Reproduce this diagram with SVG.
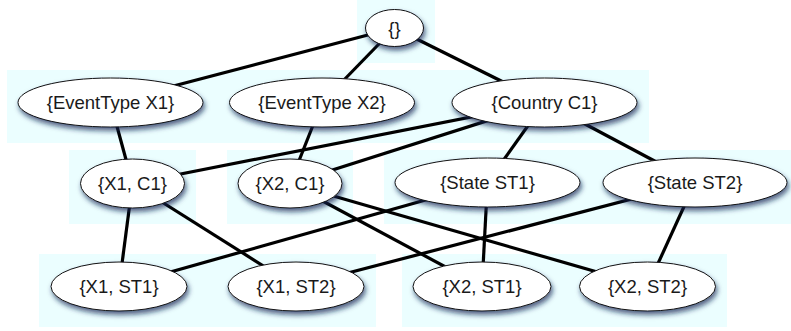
<svg xmlns="http://www.w3.org/2000/svg" width="791" height="331" viewBox="0 0 791 331">
  <defs>
    <filter id="shadow" x="-20%" y="-30%" width="140%" height="170%">
      <feDropShadow dx="1.5" dy="3.5" stdDeviation="2.5" flood-color="#162452" flood-opacity="0.7"/>
    </filter>
  </defs>
  <style>
    .band { fill: #ebfeff; }
    .edge { stroke: #000; stroke-width: 3.2; fill: none; }
    .node ellipse { fill: #fff; stroke: #111; stroke-width: 1; filter: url(#shadow); }
    .node text { font-family: "Liberation Sans", Arial, sans-serif; font-size: 18.5px; fill: #1a1a1a; text-anchor: middle; }
  </style>

  <!-- background bands -->
  <g id="bands">
    <rect class="band" x="357" y="0" width="78" height="63"/>
    <rect class="band" x="7" y="70" width="642" height="73"/>
    <rect class="band" x="69" y="150" width="127" height="74"/>
    <rect class="band" x="227" y="150" width="126" height="74"/>
    <rect class="band" x="384" y="150" width="407" height="74"/>
    <rect class="band" x="39" y="254" width="337" height="73"/>
    <rect class="band" x="402" y="254" width="325" height="73"/>
  </g>

  <!-- connectors, centre to centre, hidden under the ellipses -->
  <g id="edges">
    <line class="edge" x1="394.5" y1="28" x2="110.5" y2="102.5"/>
    <line class="edge" x1="394.5" y1="28" x2="322" y2="102.5"/>
    <line class="edge" x1="394.5" y1="28" x2="544.5" y2="102.5"/>
    <line class="edge" x1="110.5" y1="102.5" x2="132.5" y2="183.5"/>
    <line class="edge" x1="322" y1="102.5" x2="290" y2="183.5"/>
    <line class="edge" x1="544.5" y1="102.5" x2="132.5" y2="183.5"/>
    <line class="edge" x1="544.5" y1="102.5" x2="290" y2="183.5"/>
    <line class="edge" x1="544.5" y1="102.5" x2="487.5" y2="182.5"/>
    <line class="edge" x1="544.5" y1="102.5" x2="695" y2="182.5"/>
    <line class="edge" x1="132.5" y1="183.5" x2="119" y2="286.5"/>
    <line class="edge" x1="132.5" y1="183.5" x2="296" y2="286.5"/>
    <line class="edge" x1="290" y1="183.5" x2="482" y2="286.5"/>
    <line class="edge" x1="290" y1="183.5" x2="647.5" y2="286.5"/>
    <line class="edge" x1="487.5" y1="182.5" x2="119" y2="286.5"/>
    <line class="edge" x1="487.5" y1="182.5" x2="482" y2="286.5"/>
    <line class="edge" x1="695" y1="182.5" x2="296" y2="286.5"/>
    <line class="edge" x1="695" y1="182.5" x2="647.5" y2="286.5"/>
  </g>

  <g id="empty" class="node">
    <ellipse cx="394.5" cy="28" rx="29" ry="18.5"/>
    <text x="394.5" y="34.5">{}</text>
  </g>
  <g id="eventtype-x1" class="node">
    <ellipse cx="110.5" cy="102.5" rx="92.5" ry="24.5"/>
    <text x="110.5" y="109">{EventType X1}</text>
  </g>
  <g id="eventtype-x2" class="node">
    <ellipse cx="322" cy="102.5" rx="92.5" ry="24.5"/>
    <text x="322" y="109">{EventType X2}</text>
  </g>
  <g id="country-c1" class="node">
    <ellipse cx="544.5" cy="102.5" rx="92.5" ry="24.5"/>
    <text x="544.5" y="109">{Country C1}</text>
  </g>
  <g id="x1-c1" class="node">
    <ellipse cx="132.5" cy="183.5" rx="52" ry="24.5"/>
    <text x="132.5" y="190">{X1, C1}</text>
  </g>
  <g id="x2-c1" class="node">
    <ellipse cx="290" cy="183.5" rx="52" ry="24.5"/>
    <text x="290" y="190">{X2, C1}</text>
  </g>
  <g id="state-st1" class="node">
    <ellipse cx="487.5" cy="182.5" rx="92.5" ry="24.5"/>
    <text x="487.5" y="189">{State ST1}</text>
  </g>
  <g id="state-st2" class="node">
    <ellipse cx="695" cy="182.5" rx="92" ry="24.5"/>
    <text x="695" y="189">{State ST2}</text>
  </g>
  <g id="x1-st1" class="node">
    <ellipse cx="119" cy="286.5" rx="68" ry="24.5"/>
    <text x="119" y="293">{X1, ST1}</text>
  </g>
  <g id="x1-st2" class="node">
    <ellipse cx="296" cy="286.5" rx="68" ry="24.5"/>
    <text x="296" y="293">{X1, ST2}</text>
  </g>
  <g id="x2-st1" class="node">
    <ellipse cx="482" cy="286.5" rx="69" ry="24.5"/>
    <text x="482" y="293">{X2, ST1}</text>
  </g>
  <g id="x2-st2" class="node">
    <ellipse cx="647.5" cy="286.5" rx="68" ry="24.5"/>
    <text x="647.5" y="293">{X2, ST2}</text>
  </g>
</svg>
